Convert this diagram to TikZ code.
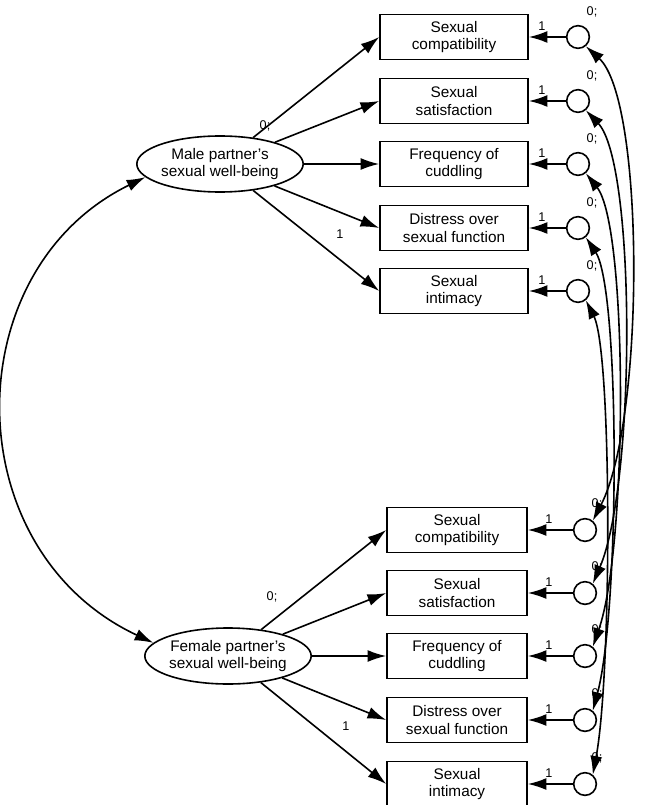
\documentclass[tikz,border=0pt]{standalone}
\usepackage{fontspec}
\setmainfont{Liberation Sans}
\usetikzlibrary{arrows.meta,shapes.geometric}
\begin{document}
\begin{tikzpicture}[x=0.75pt,y=-0.75pt,
  box/.style={draw,line width=1.2pt,minimum width=111pt,minimum height=34pt,align=center,font=\fontsize{11.5}{13}\selectfont,inner sep=1pt},
  lat/.style={draw,ellipse,line width=1.2pt,minimum width=123pt,minimum height=42pt,align=center,font=\fontsize{11.5}{13}\selectfont,inner sep=0pt},
  err/.style={draw,circle,line width=1.2pt,minimum size=17pt,inner sep=0pt},
  ar/.style={-{Latex[length=14pt,width=9pt]},line width=1.2pt},
  dar/.style={{Latex[length=14pt,width=9pt]}-{Latex[length=14pt,width=9pt]},line width=1.2pt},
  lab/.style={font=\fontsize{9.5}{11}\selectfont,inner sep=1pt}]
\useasboundingbox (0,0) rectangle (646,805);
\node[lat] (M) at (220,164) {Male partner's\\sexual well-being};
\node[lat] (F) at (228,656) {Female partner's\\sexual well-being};
\node[lab] at (265,126) {0;};
\node[lab] at (272,597) {0;};
\foreach \i/\y/\t in {1/37/{Sexual\\compatibility},2/101/{Sexual\\satisfaction},3/164/{Frequency of\\cuddling},4/228/{Distress over\\sexual function},5/291/{Sexual\\intimacy}}{
  \node[box] (mb\i) at (454,\y) {\t};
  \node[err] (me\i) at (578,\y) {};
  \draw[ar] (me\i) -- (mb\i);
  \node[lab] at (542,\y-11) {1};
  \node[lab] at (592,\y-25) {0;};
  \draw[ar] (M) -- (mb\i.west);
}
\foreach \i/\y/\t in {1/530/{Sexual\\compatibility},2/593/{Sexual\\satisfaction},3/656/{Frequency of\\cuddling},4/720/{Distress over\\sexual function},5/784/{Sexual\\intimacy}}{
  \node[box,minimum width=105pt] (fb\i) at (457,\y) {\t};
  \node[err] (fe\i) at (585,\y) {};
  \draw[ar] (fe\i) -- (fb\i);
  \node[lab] at (549,\y-11) {1};
  \node[lab] at (597,\y-26) {0;};
  \draw[ar] (F) -- (fb\i.west);
}
\node[lab] at (340,234) {1};
\node[lab] at (346,726) {1};
\draw[dar] (M.190) .. controls (-45,270) and (-45,550) .. (F.170);
\foreach \i/\b in {1/645,2/636,3/628,4/620,5/612}{
  \draw[dar] (me\i.-50) .. controls (\b,{(\i-1)*63+100}) and (\b,{(\i-1)*63+420}) .. (fe\i.50);
}
\end{tikzpicture}
\end{document}
